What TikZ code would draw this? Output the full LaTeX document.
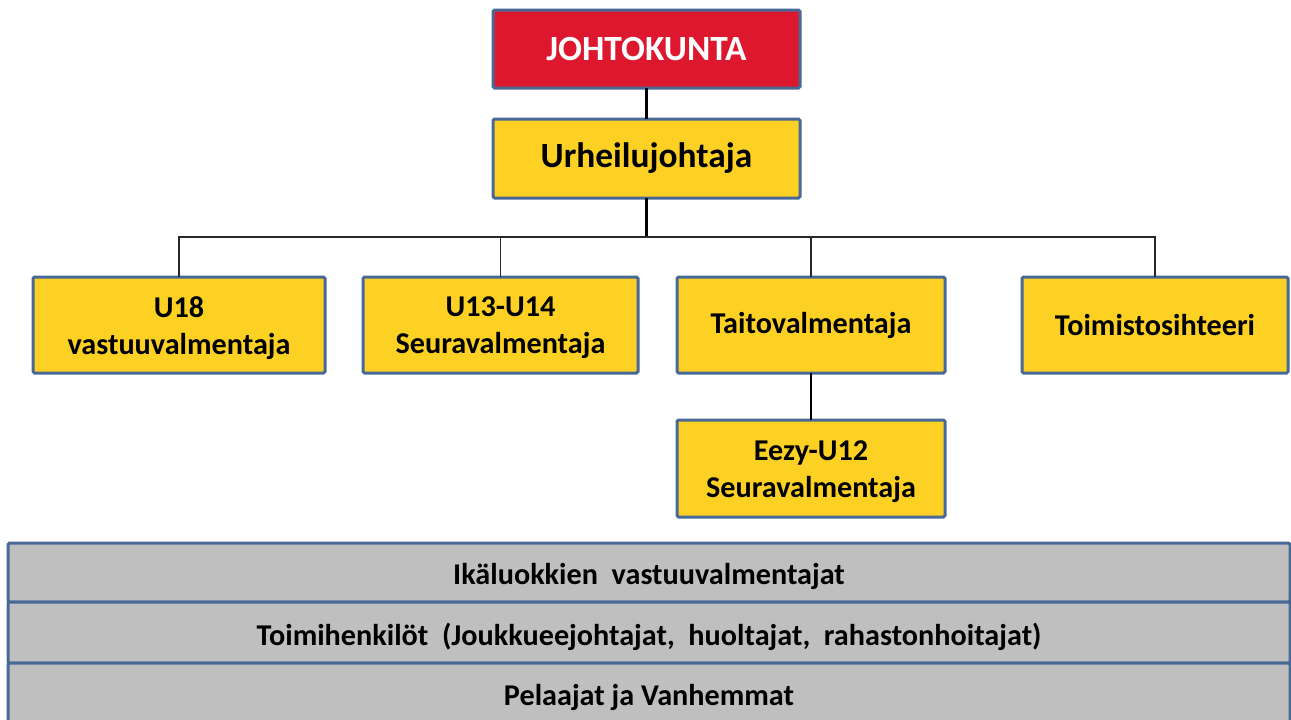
\documentclass[tikz,border=0pt]{standalone}
\usepackage{fontspec}
\setmainfont{Carlito}
\definecolor{boardred}{RGB}{221,24,46}
\definecolor{roleyellow}{RGB}{252,209,36}
\definecolor{edgeblue}{RGB}{72,104,150}
\definecolor{bargray}{RGB}{191,191,191}
\definecolor{wire}{RGB}{40,40,40}
\begin{document}
\begin{tikzpicture}[x=0.5pt,y=-0.5pt,
  textfont/.style={align=center,inner sep=0pt,font=\fontsize{15.1}{18.5}\selectfont\bfseries},
  box/.style={draw=edgeblue,line width=1.5pt,rounded corners=0.8pt,
    inner sep=0pt,outer sep=0pt,textfont},
  rolebox/.style={box,fill=roleyellow,text=black},
  headbox/.style={box,fill=roleyellow,font=\fontsize{17.7}{20}\selectfont\bfseries},
  boardbox/.style={box,fill=boardred,text=white,font=\fontsize{17.7}{20}\selectfont\bfseries},
  layer/.style={box,fill=bargray,minimum width=641pt},
  caption/.style={textfont,yshift=-1.5pt},
  barcaption/.style={textfont,yshift=-2pt},
  thickwire/.style={draw=black,line width=1.2pt},
  thinwire/.style={draw=wire,line width=0.6pt}]
\useasboundingbox (0,0) rectangle (1291,719);
\clip (0,0) rectangle (1291,719);

% management chain
\node[boardbox,minimum width=153.5pt,minimum height=39pt] (board) at (646.5,49) {JOHTOKUNTA};
\node[headbox,minimum width=153.5pt,minimum height=39.5pt] (sport) at (646.5,158.5) {Urheilujohtaja};

% coaching and office roles
\node[rolebox,minimum width=146pt,minimum height=48pt,
  label={[caption]center:{U18\\vastuuvalmentaja}}] (u18) at (179,325) {};
\node[rolebox,minimum width=137.5pt,minimum height=48pt,
  label={[caption]center:{U13-U14\\Seuravalmentaja}}] (u13) at (500.5,325) {};
\node[rolebox,minimum width=134pt,minimum height=48pt] (skill) at (811,325) {Taitovalmentaja};
\node[rolebox,minimum width=133pt,minimum height=48pt] (office) at (1155,325) {Toimistosihteeri};
\node[rolebox,minimum width=134pt,minimum height=48.5pt,
  label={[caption]center:{Eezy-U12\\Seuravalmentaja}}] (eezy) at (811,468.5) {};

% club-wide layers
\node[layer,minimum height=29.5pt,
  label={[barcaption]center:{Ikäluokkien\ \ vastuuvalmentajat}}] (ages) at (649,572.5) {};
\node[layer,minimum height=30.5pt,
  label={[barcaption]center:{Toimihenkilöt\ \ (Joukkueejohtajat,\ \ huoltajat,\ \ rahastonhoitajat)}}] (staff) at (649,632.5) {};
\node[layer,minimum height=30pt,
  label={[barcaption]center:{Pelaajat\ ja\ Vanhemmat}}] (players) at (649,693) {};

% connectors
\coordinate (bus) at (0,237);
\draw[thickwire] (board.south) -- (sport.north);
\draw[thickwire] (sport.south) -- (sport.south |- bus);
\draw[thinwire] (u18.north) -- (u18.north |- bus) -- (office.north |- bus) -- (office.north);
\draw[thinwire] (u13.north) -- (u13.north |- bus);
\draw[thinwire] (skill.north) -- (skill.north |- bus);
\draw[thickwire] (skill.south) -- (eezy.north);
\end{tikzpicture}
\end{document}
